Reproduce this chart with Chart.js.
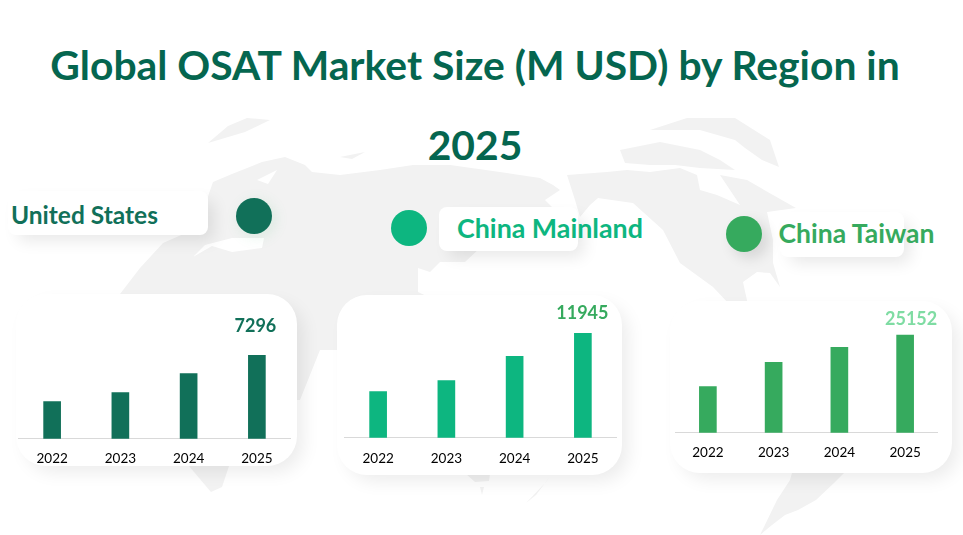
<!DOCTYPE html>
<html>
<head>
<meta charset="utf-8">
<script src="https://cdn.jsdelivr.net/npm/chart.js@4"></script>
<style>
html,body{margin:0;padding:0;background:#fff;}
#page{position:relative;width:963px;height:535px;overflow:hidden;font-family:Lato,sans-serif;}
#map{position:absolute;left:0;top:0;}
.title{position:absolute;left:-6.5px;width:963px;text-align:center;color:#05664f;font-weight:700;font-size:40.8px;line-height:50px;white-space:nowrap;}
.pill{position:absolute;background:#fff;border-radius:8px;box-shadow:8px 8px 16px -2px rgba(0,0,0,.09);}
.dot{position:absolute;width:36px;height:36px;border-radius:50%;}
.name{position:absolute;font-weight:700;font-size:26.8px;line-height:30px;white-space:nowrap;}
.card{position:absolute;background:#fff;border-radius:30px;box-shadow:8px 8px 18px -2px rgba(0,0,0,.08);}
canvas{position:absolute;}
</style>
</head>
<body>
<div id="page">
<svg id="map" width="963" height="535" fill="#f2f2f2">
<!-- rough world map behind the cards -->
<path d="M120,294 L140,268 L163,243 L188,232 L203,222 L205,205 L213,182 L232,174 L262,162 L285,157 L305,165 L312,172 L340,175 L380,170 L413,165 L450,165 L500,172 L540,178 L553,185 L560,190 L545,200 L560,215 L540,245 L480,248 L465,262 L440,262 L430,272 L418,268 L418,292 L435,300 L400,400 L340,350 L320,350 L300,400 L120,400 Z"/>
<path d="M208,143 L228,126 L247,118 L270,120 L245,132 Z"/>
<path d="M340,157 L365,152 L352,159 Z"/>
<path d="M567,175 L607,172 L627,170 L650,172 L680,168 L697,175 L700,190 L717,195 L740,205 L720,175 L747,180 L773,195 L796,208 L767,212 L773,240 L773,263 L780,287 L770,273 L757,272 L743,282 L748,305 L730,305 L713,287 L680,263 L663,230 L633,203 L598,198 L590,205 L580,217 L575,200 Z"/>
<path d="M620,150 L660,142 L700,150 L720,160 L735,170 L700,168 L675,165 L650,165 L625,163 Z"/>
<path d="M650,130 L687,118 L735,118 L770,140 L779,167 L762,160 L745,148 L735,140 L700,130 Z"/>
<path d="M792,473 L844,473 L834,483 L816,500 L798,510 L785,515 L772,525 L760,535 L777,500 L790,480 Z"/>
<path d="M189,466 L229,466 L222,487 L211,492 L205,485 Z"/>
<path d="M466,474 L490,474 L489,481 L475,482 Z"/>
<path d="M480,487 L484,487 L482,495 Z"/>
<path d="M551,475 L546,482 L526,503 L536,495 Z"/>
<!-- seas cut out of the land -->
<g fill="#fff">
<path d="M193,257 L212,246 L232,252 L262,248 L264,238 L232,238 L205,245 Z"/>
<path d="M257,180 L277,170 L268,184 Z"/>
</g>
<rect x="435" y="280" width="94" height="16" fill="#fff"/>
</svg>

<div class="title" style="top:40px;">Global OSAT Market Size (M USD) by Region in</div>
<div class="title" style="top:120px;">2025</div>

<div class="pill" style="left:8px;top:191px;width:200px;height:44px;"></div>
<div class="dot" style="left:236px;top:198px;background:#117059;box-shadow:3px 3px 14px rgba(80,190,120,.15);"></div>
<div class="name" style="left:11px;top:200px;color:#117059;font-size:24.5px;">United States</div>

<div class="dot" style="left:391px;top:210px;background:#0db680;"></div>
<div class="pill" style="left:439px;top:207px;width:139px;height:44px;"></div>
<div class="name" style="left:457px;top:213px;color:#0db680;">China Mainland</div>

<div class="dot" style="left:726px;top:216px;background:#36aa5e;box-shadow:6px 6px 14px rgba(0,0,0,.12);"></div>
<div class="pill" style="left:780px;top:212px;width:124px;height:45px;"></div>
<div class="name" style="left:778.5px;top:218px;color:#36aa5e;font-size:26.5px;">China Taiwan</div>

<div class="card" style="left:16px;top:294px;width:281px;height:172px;"></div>
<div class="card" style="left:337px;top:295px;width:285px;height:180px;"></div>
<div class="card" style="left:670px;top:301px;width:282px;height:172px;"></div>

<canvas id="usChart" width="273" height="183" style="left:18px;top:296px;"></canvas>
<canvas id="mainlandChart" width="273" height="184" style="left:344px;top:296px;"></canvas>
<canvas id="taiwanChart" width="263" height="170" style="left:675px;top:303px;"></canvas>
</div>

<script>
var years = ["2022", "2023", "2024", "2025"];
var usValues = [3252, 4044, 5713, 7296];
var mainlandValues = [5283, 6547, 9303, 11945];
var taiwanValues = [11928, 18151, 22040, 25152];

// writes the value over the last bar only
var lastLabel = {
	id: 'lastLabel',
	afterDatasetsDraw: function(chart, args, opts) {
		var bar = chart.getDatasetMeta(0).data[3];
		var ctx = chart.ctx;
		ctx.save();
		ctx.font = "700 18px Lato";
		ctx.fillStyle = opts.color;
		ctx.textAlign = "center";
		ctx.textBaseline = "middle";
		ctx.fillText(chart.data.datasets[0].data[3], bar.x + opts.dx, bar.y - opts.dy);
		ctx.restore();
	}
};

function makeChart(id, values, color, yMax, labelColor, dx, dy, tickPad) {
	return new Chart(document.getElementById(id), {
		type: 'bar',
		data: {
			labels: years,
			datasets: [{
				data: values,
				backgroundColor: color,
				barThickness: 17
			}]
		},
		options: {
			responsive: false,
			animation: false,
			layout: { padding: 0 },
			plugins: {
				legend: { display: false },
				tooltip: { enabled: false },
				lastLabel: { color: labelColor, dx: dx, dy: dy }
			},
			scales: {
				x: {
					grid: { display: false, drawTicks: false },
					border: { color: "#d9d9d9", width: 1 },
					ticks: { color: "#000", padding: tickPad, font: { family: "Lato", size: 13.5 } }
				},
				y: { display: false, min: 0, max: yMax }
			}
		},
		plugins: [lastLabel]
	});
}

makeChart("usChart", usValues, "#117059", 12500, "#117059", -1.5, 29, 12);
makeChart("mainlandChart", mainlandValues, "#0db680", 16200, "#36aa5e", -0.5, 20, 13);
makeChart("taiwanChart", taiwanValues, "#36aa5e", 33450, "#7fdca3", 6, 16, 12);
</script>
</body>
</html>
